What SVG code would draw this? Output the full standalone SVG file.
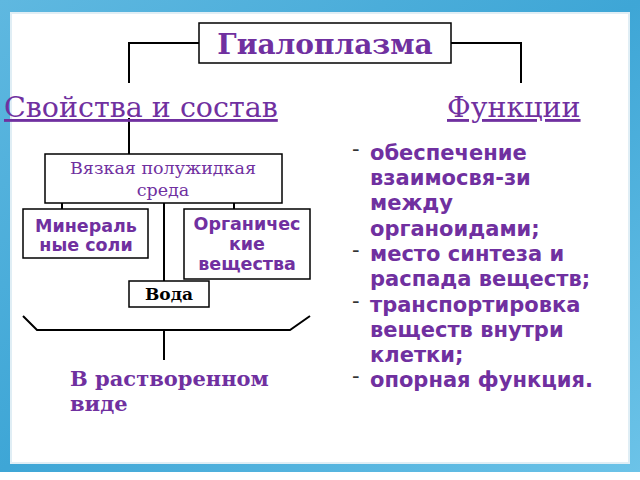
<svg xmlns="http://www.w3.org/2000/svg" width="640" height="480" viewBox="0 0 640 480">
<defs><linearGradient id="bg" x1="0" y1="0" x2="1" y2="1"><stop offset="0" stop-color="#5fb8e0"/><stop offset="0.5" stop-color="#3ea6d6"/><stop offset="1" stop-color="#6cc3e8"/></linearGradient></defs>
<style>
.b{fill:#fff;stroke:#000;stroke-width:1.5}
.c{fill:none;stroke:#000;stroke-width:2}
.p{fill:#7030a0}
.ser{font-family:"DejaVu Serif","Liberation Serif",serif}
.san{font-family:"DejaVu Sans","Liberation Sans",sans-serif;font-weight:bold}
</style>
<rect width="640" height="480" fill="#fff"/>
<rect x="0" y="0" width="640" height="472" fill="url(#bg)"/>
<rect x="11" y="13" width="618" height="450" fill="#fff" stroke="#e0eef5" stroke-width="2"/>
<g id="connectors" class="c">
<polyline points="199,43 129,43 129,83"/>
<polyline points="451,43 521,43 521,83"/>
<line x1="129" y1="118" x2="129" y2="154"/>
<line x1="62" y1="182" x2="62" y2="209"/>
<line x1="164" y1="182" x2="164" y2="281"/>
<line x1="234" y1="182" x2="234" y2="209"/>
<polyline points="23,316 37,330 290,330 310,316"/>
<line x1="164" y1="330" x2="164" y2="360"/>
</g>
<g id="title"><rect class="b" x="199" y="23" width="252" height="40"/><text x="325" y="54" text-anchor="middle" class="ser p" font-size="28" font-weight="bold">Гиалоплазма</text></g>
<g id="props"><text x="4" y="117" class="ser p" font-size="28.5" text-decoration="underline">Свойства и состав</text></g>
<g id="func"><text x="447" y="117" class="ser p" font-size="28.5" text-decoration="underline">Функции</text></g>
<g id="viscous"><rect class="b" x="45" y="154" width="237" height="49"/><text class="ser p" font-size="17.5" text-anchor="middle"><tspan x="163" y="174">Вязкая полужидкая</tspan><tspan x="163" y="196">среда</tspan></text></g>
<g id="mineral"><rect class="b" x="23" y="209" width="125" height="49"/><text class="san p" font-size="17.5" text-anchor="middle"><tspan x="86" y="232">Минераль</tspan><tspan x="86" y="251">ные соли</tspan></text></g>
<g id="organic"><rect class="b" x="184" y="209" width="126" height="70"/><text class="san p" font-size="17.5" text-anchor="middle"><tspan x="247" y="230">Органичес</tspan><tspan x="247" y="250">кие</tspan><tspan x="247" y="270">вещества</tspan></text></g>
<g id="water"><rect class="b" x="129" y="281" width="80" height="26"/><text x="169" y="300" text-anchor="middle" class="ser" font-size="17" font-weight="bold">Вода</text></g>
<g id="dissolved"><text class="ser p" font-size="21" font-weight="bold"><tspan x="70" y="386">В растворенном</tspan><tspan x="70" y="411">виде</tspan></text></g>
<g id="list" class="san p" font-size="21">
<g fill="#333" font-weight="normal"><text x="352" y="156">-</text><text x="352" y="257">-</text><text x="352" y="308">-</text><text x="352" y="383">-</text></g>
<text x="370" y="160">обеспечение</text><text x="370" y="185">взаимосвя-зи</text><text x="370" y="210">между</text><text x="370" y="236">органоидами;</text>
<text x="370" y="261">место синтеза и</text><text x="370" y="286">распада веществ;</text>
<text x="370" y="312">транспортировка</text><text x="370" y="337">веществ внутри</text><text x="370" y="362">клетки;</text>
<text x="370" y="387">опорная функция.</text>
</g>
</svg>
